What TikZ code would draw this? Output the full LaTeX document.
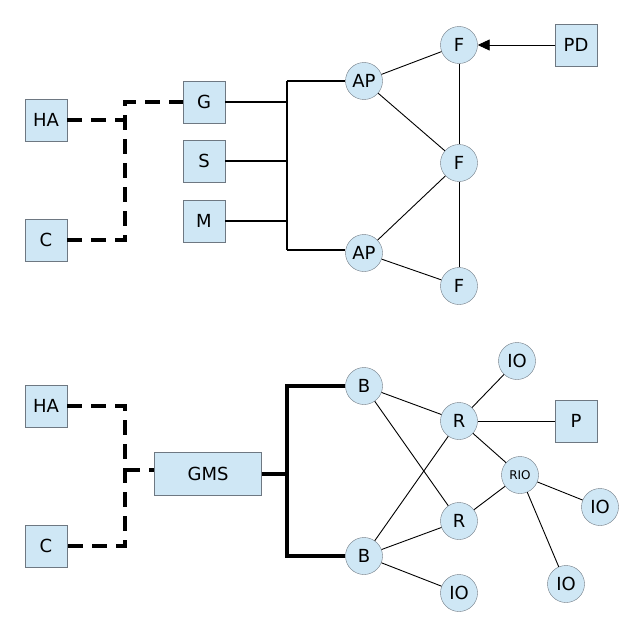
\documentclass[tikz,border=0pt]{standalone}
\usepackage{fontspec}
\setmainfont{DejaVu Sans}
\usetikzlibrary{positioning,arrows.meta}
\definecolor{boxfill}{RGB}{207,231,245}
\definecolor{boxline}{RGB}{110,120,130}
\tikzset{box/.style={draw=boxline, fill=boxfill, minimum width=42, minimum height=42, inner sep=0pt, font=\fontsize{18}{20}\selectfont}}
\tikzset{dot/.style={draw=boxline, fill=boxfill, circle, minimum size=37, inner sep=0pt, font=\fontsize{18}{20}\selectfont}}
\tikzset{dashlink/.style={draw, line width=3.6pt, dash pattern=on 15pt off 9pt}}
\tikzset{bus/.style={draw, line width=1.8pt}}
\tikzset{thickbus/.style={draw, line width=4pt}}
\tikzset{link/.style={draw, line width=0.9pt}}
\begin{document}
\begin{tikzpicture}[x=1pt, y=-1pt]
\useasboundingbox (0,0) rectangle (632,626);
% upper diagram
\node[box] (HA1) at (46,120) {HA};
\node[box] (C1) at (46,240) {C};
\node[box] (G) at (204,102) {G};
\node[box] (S) at (204,161) {S};
\node[box] (M) at (204,221) {M};
\node[dot] (AP1) at (364,81) {AP};
\node[dot] (AP2) at (364,253) {AP};
\node[dot] (F1) at (459,45) {F};
\node[dot] (F2) at (459,163) {F};
\node[dot] (F3) at (459,286) {F};
\node[box] (PD) at (576,45) {PD};
\coordinate (b1) at (287,81);
\coordinate (b2) at (287,250);
%
\draw[dashlink] (HA1) -- (125,120) |- (G);
\draw[dashlink] (C1) -- (125,240) -- (125,120);
\draw[bus] (b1) -- (b2);
\draw[bus] (G) -- (G -| b1);
\draw[bus] (S) -- (S -| b1);
\draw[bus] (M) -- (M -| b1);
\draw[bus] (b1) -- (AP1);
\draw[bus] (b2) -- (b2 -| AP2.west);
\draw[link] (AP1) -- (F1);
\draw[link] (AP1) -- (F2);
\draw[link] (F1) -- (F2);
\draw[link] (F2) -- (AP2);
\draw[link] (AP2) -- (F3);
\draw[link] (F2) -- (F3);
\draw[link, -{Triangle[length=12pt, width=11pt]}] (PD) -- (F1);
% lower diagram
\node[box] (HA2) at (46,406) {HA};
\node[box] (C2) at (46,546) {C};
\node[box, minimum width=107, minimum height=43] (GMS) at (208,474) {GMS};
\node[dot] (B1) at (364,386) {B};
\node[dot] (B2) at (364,556) {B};
\node[dot] (R1) at (459,421) {R};
\node[dot] (R2) at (459,521) {R};
\node[dot, font=\fontsize{12}{14}\selectfont] (RIO) at (520,475) {RIO};
\node[dot] (IO1) at (517,361) {IO};
\node[box] (P) at (576,421) {P};
\node[dot] (IO2) at (600,507) {IO};
\node[dot] (IO3) at (566,584) {IO};
\node[dot] (IO4) at (459,593) {IO};
\coordinate (b3) at (287,386);
\coordinate (b4) at (287,556);
\coordinate (t1) at (125,470);
%
\draw[dashlink] (HA2) -- (125,406) -- (125,546) -- (C2);
\draw[dashlink] (t1) -- (t1 -| GMS.west);
\draw[thickbus] (GMS) -- (GMS -| b3);
\draw[thickbus] (B1) -- (b3) -- (b4) -- (B2);
\draw[link] (B1) -- (R1);
\draw[link] (B1) -- (R2);
\draw[link] (B2) -- (R1);
\draw[link] (B2) -- (R2);
\draw[link] (B2) -- (IO4);
\draw[link] (R1) -- (IO1);
\draw[link] (R1) -- (P);
\draw[link] (R1) -- (RIO);
\draw[link] (R2) -- (RIO);
\draw[link] (RIO) -- (IO2);
\draw[link] (RIO) -- (IO3);
\end{tikzpicture}
\end{document}
